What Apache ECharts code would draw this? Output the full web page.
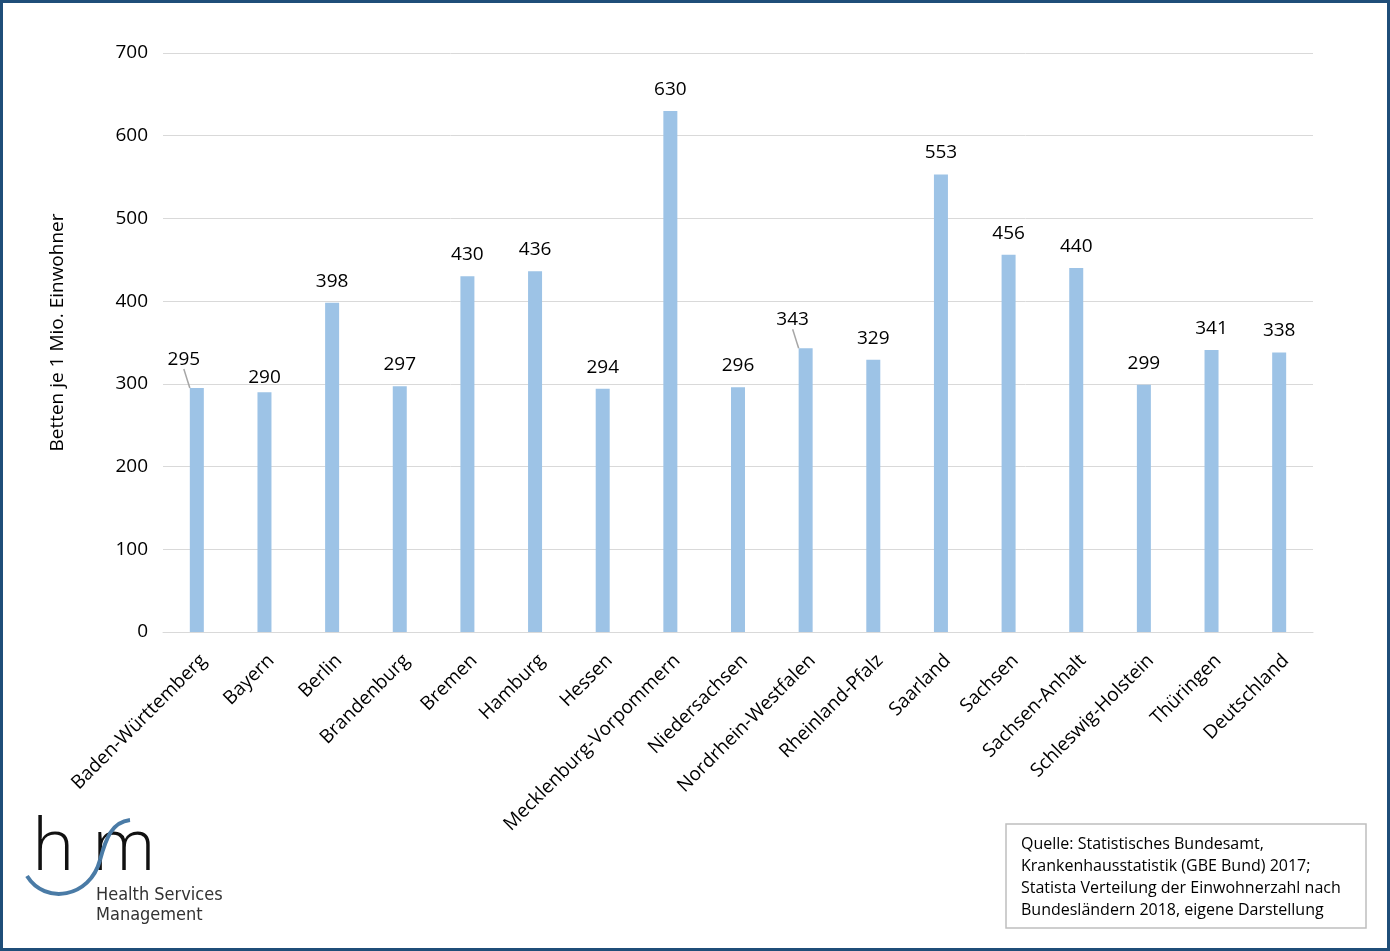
<!DOCTYPE html>
<html><head><meta charset="utf-8">
<script src="https://cdn.jsdelivr.net/npm/echarts@6/dist/echarts.min.js"></script>
<style>html,body{margin:0;padding:0;background:#fff}#c{width:1390px;height:951px;box-sizing:border-box;border:3px solid #1F4E79}</style>
</head><body><div id="c"></div>
<script>
const categories = ['Baden-Württemberg','Bayern','Berlin','Brandenburg','Bremen','Hamburg','Hessen','Mecklenburg-Vorpommern','Niedersachsen','Nordrhein-Westfalen','Rheinland-Pfalz','Saarland','Sachsen','Sachsen-Anhalt','Schleswig-Holstein','Thüringen','Deutschland'];
const values = [295,290,398,297,430,436,294,630,296,343,329,553,456,440,299,341,338];
const yTicks = [0,100,200,300,400,500,600,700];
const shifted = ['Baden-Württemberg','Nordrhein-Westfalen'];
const lowered = ['Bayern'];
const sourceLines = ['Quelle: Statistisches Bundesamt,','Krankenhausstatistik (GBE Bund) 2017;','Statista Verteilung der Einwohnerzahl nach','Bundesländern 2018, eigene Darstellung'];
const FONT = '"Open Sans", "Noto Sans", sans-serif';
const chart = echarts.init(document.getElementById('c'), null, {renderer:'canvas'});
chart.setOption({
  animation:false,
  grid:{left:160,right:74,top:50,bottom:316,containLabel:false},
  xAxis:{type:'category',data:categories,
    axisLine:{lineStyle:{color:'#d9d9d9',width:1}},axisTick:{show:false},
    axisLabel:{rotate:45,interval:0,fontSize:19,color:'#000',fontFamily:FONT,margin:19,verticalAlign:'top'}},
  yAxis:{type:'value',min:0,max:700,interval:100,
    name:'Betten je 1 Mio. Einwohner',nameLocation:'middle',nameRotate:90,nameGap:96,
    nameTextStyle:{fontSize:19,color:'#000',fontFamily:FONT,padding:[0,0,0,20]},
    axisLine:{show:false},axisTick:{show:false},
    splitLine:{lineStyle:{color:'#d9d9d9',width:1}},
    axisLabel:{fontSize:19,color:'#000',fontFamily:FONT,margin:15,
      formatter:v=>yTicks.includes(v)?String(v):''}},
  series:[{type:'bar',barWidth:14,
    itemStyle:{color:'#9DC3E6'},
    label:{show:true,position:'top',distance:12,fontSize:19,color:'#000',fontFamily:FONT},
    labelLayout:function(p){
      const c = categories[p.dataIndex];
      if (shifted.includes(c)) return {dx:-13,dy:-7};
      if (lowered.includes(c)) return {dy:7};
      return {};
    },
    labelLine:{show:false,lineStyle:{color:'#a6a6a6',width:1.5},length2:0,minTurnAngle:0},
    data:values.map((v,i)=>shifted.includes(categories[i])?
      {value:v,labelLine:{show:true,lineStyle:{color:'#a6a6a6',width:1.5}}}:v)
  }],
  graphic:[
    {type:'rect',x:1003,y:821,shape:{x:0,y:0,width:360,height:104},style:{fill:'#fff',stroke:'#bfbfbf',lineWidth:1.5}},
    {type:'text',x:1018,y:830,style:{text:sourceLines.join('\n'),font:'16px '+FONT,lineHeight:22,fill:'#000'}},
    {type:'text',x:29,y:810,style:{text:'h',font:'200 72px '+FONT,fill:'#111'}},
    {type:'text',x:89,y:810,style:{text:'m',font:'200 72px '+FONT,fill:'#111'}},
    {type:'bezierCurve',shape:{x1:24,y1:873,x2:97,y2:857,cpx1:42,cpy1:902,cpx2:87,cpy2:895},style:{fill:'none',stroke:'#4A7BA6',lineWidth:4}},
    {type:'bezierCurve',shape:{x1:97,y1:857,x2:127,y2:817,cpx1:103,cpy1:835,cpx2:109,cpy2:819},style:{fill:'none',stroke:'#4A7BA6',lineWidth:4}},
    {type:'text',x:93,y:882,style:{text:'Health Services\nManagement',font:'18px "DejaVu Sans Condensed", '+FONT,lineHeight:20,fill:'#333'}}
  ]
});
</script></body></html>
